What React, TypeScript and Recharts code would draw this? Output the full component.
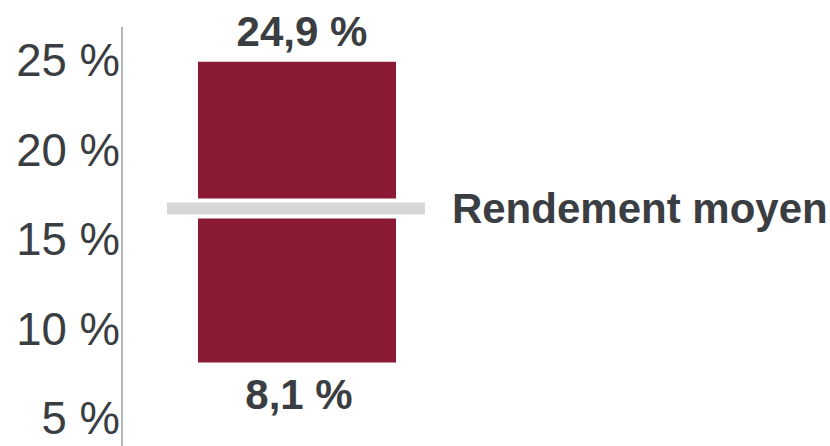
import * as React from "react"
import {
  Bar,
  ComposedChart,
  LabelList,
  ReferenceLine,
  XAxis,
  YAxis,
} from "recharts"

// range of returns shown by the bar
const categories = ["Rendement"]
const lowValues = [8.1]
const highValues = [24.9]
const averageValues = [16.7]
const averageLabel = "Rendement moyen"
const yTicks = [5, 10, 15, 20, 25]

const BAR_COLOR = "#8b1a34"
const LINE_COLOR = "#d6d7d9"
const TEXT_COLOR = "#3a3d41"
const FONT = "'Liberation Sans', Arial, sans-serif"

const data = categories.map((name, i) => ({
  name,
  x: i + 1,
  low: lowValues[i],
  high: highValues[i],
  range: [lowValues[i], highValues[i]],
}))

const fmt = (v: any) => `${Number(v).toFixed(1).replace(".", ",")} %`

export default function App() {
  const avg = averageValues[0]
  const segment = [
    { x: 0.257, y: avg },
    { x: 1.731, y: avg },
  ]

  return (
    <div style={{ position: "absolute", left: 0, top: 0, width: 830, height: 446, background: "#fff" }}>
      <ComposedChart
        width={830}
        height={446}
        data={data}
        margin={{ top: 27, right: 358, bottom: 0, left: 0 }}
      >
        <XAxis type="number" dataKey="x" domain={[0, 2]} hide />
        <YAxis
          type="number"
          domain={[3.44, 26.84]}
          allowDataOverflow
          ticks={yTicks}
          width={122}
          tickLine={false}
          tickSize={0}
          tickMargin={2}
          axisLine={{ stroke: "#6e6e6e", strokeWidth: 1 }}
          tick={{ fill: TEXT_COLOR, fontSize: 45.5, fontFamily: FONT }}
          tickFormatter={(v) => `${v} %`}
        />
        <Bar dataKey="range" fill={BAR_COLOR} barSize={198} isAnimationActive={false}>
          <LabelList
            dataKey="high"
            position="top"
            offset={16}
            dx={5}
            formatter={fmt}
            fill={TEXT_COLOR}
            fontSize={42}
            fontWeight="bold"
            fontFamily={FONT}
          />
          <LabelList
            dataKey="low"
            position="bottom"
            offset={17}
            dx={2}
            formatter={fmt}
            fill={TEXT_COLOR}
            fontSize={42}
            fontWeight="bold"
            fontFamily={FONT}
          />
        </Bar>
        <ReferenceLine segment={segment} stroke="#ffffff" strokeWidth={20} />
        <ReferenceLine
          segment={segment}
          stroke={LINE_COLOR}
          strokeWidth={12}
          label={{
            value: averageLabel,
            position: "right",
            offset: 27,
            fill: TEXT_COLOR,
            fontSize: 42,
            fontWeight: "bold",
            fontFamily: FONT,
          }}
        />
      </ComposedChart>
    </div>
  )
}
